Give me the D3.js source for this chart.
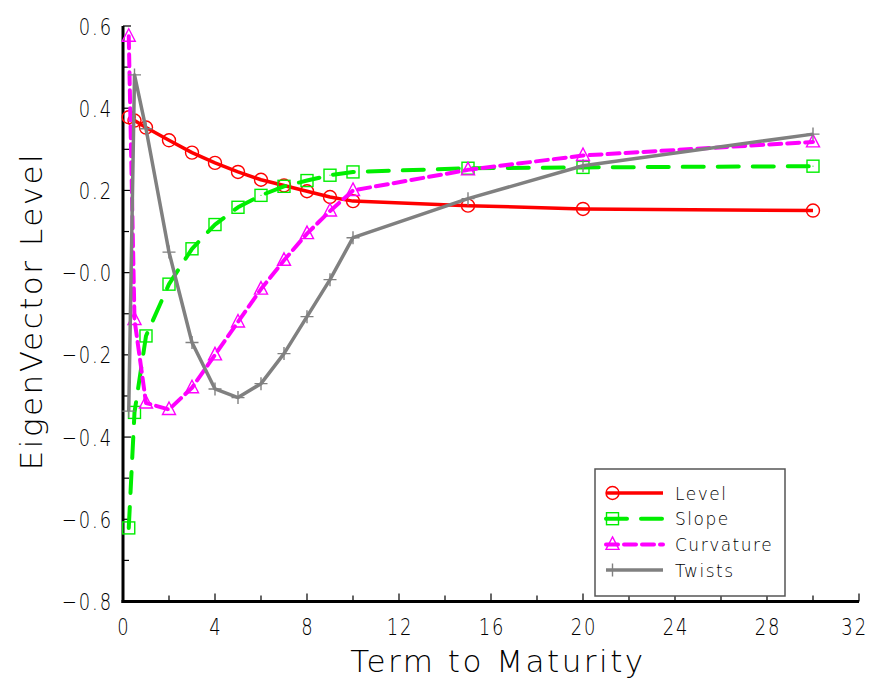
<!DOCTYPE html>
<html>
  <head>
    <meta charset="utf-8">
    <title>EigenVector Level</title>
    <script src="https://cdn.jsdelivr.net/npm/d3@7"></script>
    <style>
      body { margin: 0; background: #fff; }
      text { font-family: "DejaVu Sans", sans-serif; font-weight: 200; fill: #000; }
      .tick-label { font-size: 23px; letter-spacing: 2.5px; }
      .axis-title { font-size: 31px; letter-spacing: 2.5px; }
      .legend-label { font-size: 17px; letter-spacing: 1.5px; }
    </style>
  </head>
  <body>
    <div id="chart"></div>
    <script>
      // term to maturity (years)
      var terms = [0.25, 0.5, 1, 2, 3, 4, 5, 6, 7, 8, 9, 10, 15, 20, 30];

      // eigenvector loadings
      var level     = [0.378, 0.37, 0.353, 0.322, 0.292, 0.267, 0.245, 0.226, 0.212, 0.198, 0.184, 0.174, 0.163, 0.155, 0.151];
      var slope     = [-0.621, -0.34, -0.154, -0.028, 0.058, 0.117, 0.159, 0.188, 0.21, 0.224, 0.237, 0.245, 0.254, 0.256, 0.259];
      var curvature = [0.575, -0.114, -0.317, -0.333, -0.28, -0.2, -0.12, -0.04, 0.03, 0.095, 0.15, 0.2, 0.25, 0.285, 0.318];
      var twists    = [-0.337, 0.481, 0.35, 0.05, -0.17, -0.283, -0.304, -0.27, -0.197, -0.107, -0.017, 0.085, 0.18, 0.26, 0.337];

      var seriesNames = ["Level", "Slope", "Curvature", "Twists"];
      var xTicks = [0, 4, 8, 12, 16, 20, 24, 28, 32];
      var yTicks = [-0.8, -0.6, -0.4, -0.2, 0, 0.2, 0.4, 0.6];

      var W = 870, H = 681;
      var svg = d3.select("#chart").append("svg")
          .attr("width", W)
          .attr("height", H);

      var x = d3.scaleLinear().domain([0, 32]).range([123, 859]);
      var y = d3.scaleLinear().domain([-0.8, 0.6]).range([601.5, 26]);

      var styles = {
        Level:     { color: "#ff0000", dash: null,    width: 3.5, marker: "circle" },
        Slope:     { color: "#00ee00", dash: "21,14", width: 4,   marker: "square" },
        Curvature: { color: "#ff00ff", dash: "12,6",  width: 4,   marker: "triangle" },
        Twists:    { color: "#808080", dash: null,    width: 3.5, marker: "plus" }
      };
      var values = { Level: level, Slope: slope, Curvature: curvature, Twists: twists };

      // axes: ticks point inward
      var xAxis = svg.append("g").attr("transform", "translate(0," + y(-0.8) + ")");
      xAxis.append("line")
          .attr("x1", x(0) - 1.5).attr("x2", x(32))
          .attr("stroke", "#000").attr("stroke-width", 3);
      xAxis.selectAll(".xt").data(d3.range(0, 33, 2)).enter().append("line")
          .attr("x1", function(d) { return x(d); })
          .attr("x2", function(d) { return x(d); })
          .attr("y1", 0)
          .attr("y2", function(d) { return d % 4 === 0 ? -8 : -6; })
          .attr("stroke", "#000").attr("stroke-width", 1.2);
      // narrow, tall digits like the original plot font
      xAxis.selectAll(".xl").data(xTicks).enter().append("text")
          .attr("class", "tick-label")
          .attr("transform", function(d) { return "translate(" + (x(d) + 1) + ",33) scale(0.78,1)"; })
          .attr("text-anchor", "middle")
          .text(function(d) { return d; })
          .each(function(d) {
            // keep the last label inside the page
            var r = this.getBoundingClientRect();
            if (r.right > W - 2) {
              d3.select(this).attr("transform",
                "translate(" + (x(d) + 1 - (r.right - W + 2)) + ",33) scale(0.78,1)");
            }
          });

      var yAxis = svg.append("g").attr("transform", "translate(" + x(0) + ",0)");
      yAxis.append("line")
          .attr("y1", y(0.6)).attr("y2", y(-0.8) + 1.5)
          .attr("stroke", "#000").attr("stroke-width", 3);
      yAxis.selectAll(".yt").data(d3.range(-8, 7, 1)).enter().append("line")
          .attr("y1", function(d) { return y(d / 10); })
          .attr("y2", function(d) { return y(d / 10); })
          .attr("x1", 0)
          .attr("x2", function(d) { return d % 2 === 0 ? 8 : 6; })
          .attr("stroke", "#000").attr("stroke-width", 1.2);
      yAxis.selectAll(".yl").data(yTicks).enter().append("text")
          .attr("class", "tick-label")
          .attr("transform", function(d) { return "translate(-10," + (y(d) + 8.5) + ") scale(0.78,1)"; })
          .attr("text-anchor", "end")
          .text(function(d) {
            var s = Math.abs(d).toFixed(1);
            return d <= 0 && d > -0.05 ? "\u22120.0" : (d < 0 ? "\u2212" + s : s);
          });

      svg.append("text")
          .attr("class", "axis-title")
          .attr("x", 498).attr("y", 672)
          .attr("text-anchor", "middle")
          .text("Term to Maturity");
      svg.append("text")
          .attr("class", "axis-title")
          .attr("transform", "translate(42," + 311 + ") rotate(-90)")
          .attr("text-anchor", "middle")
          .text("EigenVector Level");

      function drawMarker(g, type, cx, cy, color) {
        if (type === "circle") {
          g.append("circle").attr("cx", cx).attr("cy", cy).attr("r", 6.5)
              .attr("fill", "none").attr("stroke", color).attr("stroke-width", 1.4);
        } else if (type === "square") {
          g.append("rect").attr("x", cx - 6).attr("y", cy - 6).attr("width", 12).attr("height", 12)
              .attr("fill", "none").attr("stroke", color).attr("stroke-width", 1.4);
          g.append("rect").attr("x", cx - 0.5).attr("y", cy - 0.5).attr("width", 1).attr("height", 1)
              .attr("fill", color);
        } else if (type === "triangle") {
          g.append("path")
              .attr("d", "M" + cx + "," + (cy - 7.5) + "L" + (cx + 6.5) + "," + (cy + 5) + "L" + (cx - 6.5) + "," + (cy + 5) + "Z")
              .attr("fill", "none").attr("stroke", color).attr("stroke-width", 1.4);
          g.append("rect").attr("x", cx - 0.5).attr("y", cy).attr("width", 1).attr("height", 1)
              .attr("fill", color);
        } else {
          g.append("path")
              .attr("d", "M" + (cx - 6.5) + "," + cy + "H" + (cx + 6.5) + "M" + cx + "," + (cy - 6.5) + "V" + (cy + 6.5))
              .attr("stroke", color).attr("stroke-width", 1.4);
        }
      }

      var line = d3.line()
          .x(function(d) { return x(d[0]); })
          .y(function(d) { return y(d[1]); });

      seriesNames.forEach(function(name) {
        var st = styles[name];
        var pts = terms.map(function(t, i) { return [t, values[name][i]]; });
        var g = svg.append("g");
        g.append("path")
            .datum(pts)
            .attr("d", line)
            .attr("fill", "none")
            .attr("stroke", st.color)
            .attr("stroke-width", st.width)
            .attr("stroke-linecap", st.dash ? "round" : "butt")
            .attr("stroke-linejoin", "round")
            .attr("stroke-dasharray", st.dash);
        pts.forEach(function(p) { drawMarker(g, st.marker, x(p[0]), y(p[1]), st.color); });
      });

      // legend
      var legend = svg.append("g");
      legend.append("rect")
          .attr("x", 595).attr("y", 469).attr("width", 190).attr("height", 127)
          .attr("fill", "#fff").attr("stroke", "#555").attr("stroke-width", 1.5);
      seriesNames.forEach(function(name, i) {
        var st = styles[name];
        var ly = 493 + i * 25.7;
        legend.append("line")
            .attr("x1", 606).attr("x2", 663).attr("y1", ly).attr("y2", ly)
            .attr("stroke", st.color).attr("stroke-width", st.width)
            .attr("stroke-linecap", st.dash ? "round" : "butt")
            .attr("stroke-dasharray", st.dash);
        drawMarker(legend, st.marker, 612.5, ly, st.color);
        legend.append("text")
            .attr("class", "legend-label")
            .attr("x", 675).attr("y", ly + 6.5)
            .text(name);
      });
    </script>
  </body>
</html>
